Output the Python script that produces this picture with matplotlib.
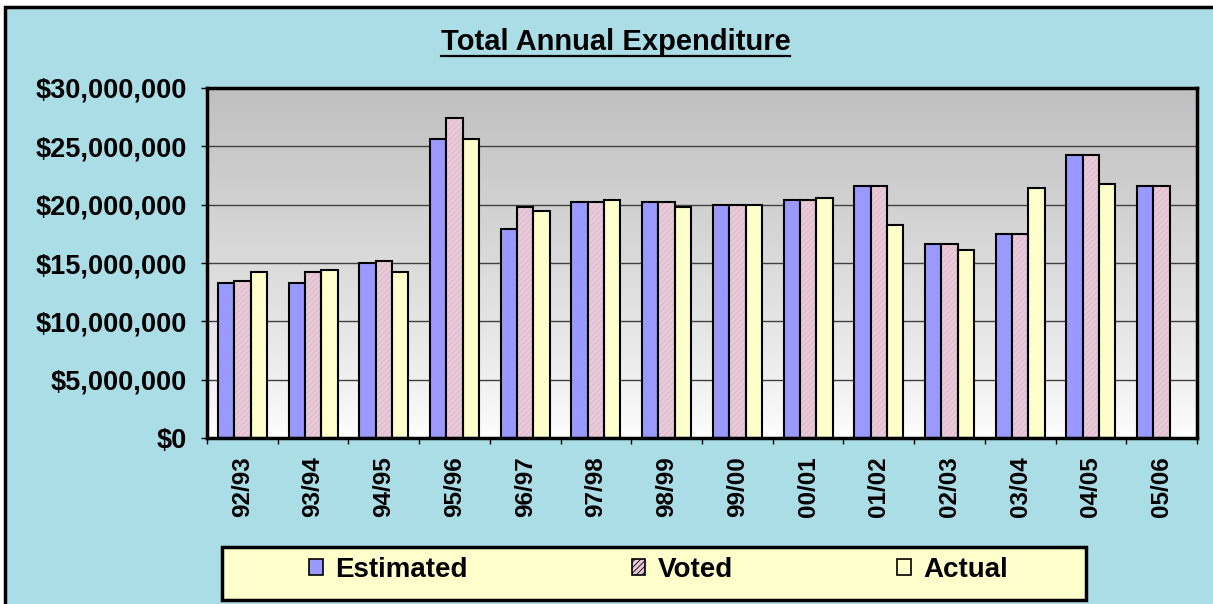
import matplotlib
matplotlib.use('Agg')
import matplotlib.pyplot as plt
import numpy as np
from matplotlib.patches import Rectangle, Patch
from matplotlib.lines import Line2D
from matplotlib.ticker import FuncFormatter

plt.rcParams['font.family'] = ['Liberation Sans', 'DejaVu Sans']
plt.rcParams['font.weight'] = 'bold'
plt.rcParams['hatch.linewidth'] = 0.6

# values in millions of dollars
years = ['92/93', '93/94', '94/95', '95/96', '96/97', '97/98', '98/99',
         '99/00', '00/01', '01/02', '02/03', '03/04', '04/05', '05/06']
estimated = [13.3, 13.3, 15.0, 25.6, 17.9, 20.2, 20.2, 20.0, 20.4, 21.6, 16.6, 17.5, 24.3, 21.6]
voted = [13.5, 14.2, 15.2, 27.4, 19.8, 20.2, 20.2, 20.0, 20.4, 21.6, 16.6, 17.5, 24.3, 21.6]
actual = [14.2, 14.4, 14.2, 25.6, 19.5, 20.4, 19.8, 20.0, 20.6, 18.3, 16.1, 21.4, 21.8, None]

series_names = ['Estimated', 'Voted', 'Actual']
colors = ['#9999ff', '#e8cad9', '#ffffcc']

W, H = 1213, 604
fig = plt.figure(figsize=(W / 100, H / 100), dpi=100, facecolor='white')

# outer chart area with frame
fig.patches.append(Rectangle((5 / W, -0.05), 1.1, (H - 7) / H + 0.05,
                             transform=fig.transFigure, facecolor='#abdde7',
                             edgecolor='black', linewidth=2.5, zorder=-5))

ax = fig.add_axes([207 / W, (H - 438) / H, 990 / W, 350 / H])

# grey-to-white gradient background
grad = np.linspace(0, 1, 256).reshape(-1, 1) ** 0.8
ax.imshow(grad, extent=(0, 1, 0, 1), transform=ax.transAxes, aspect='auto',
          cmap=matplotlib.colors.LinearSegmentedColormap.from_list('g', ['#ffffff', '#c0c0c0']),
          origin='lower', zorder=0)

x = np.arange(len(years))
bw = 0.231
to_dollars = lambda vals: [v * 1e6 for v in vals]

ax.bar(x - bw, to_dollars(estimated), bw, color=colors[0], edgecolor='black', linewidth=1.5, zorder=3)
# voted bars: hatched fill, then black outline on top
ax.bar(x, to_dollars(voted), bw, color=colors[1], edgecolor='#dcb6c9', hatch='//////', linewidth=0, zorder=3)
ax.bar(x, to_dollars(voted), bw, fill=False, edgecolor='black', linewidth=1.5, zorder=4)
ax_x = [i for i, v in enumerate(actual) if v is not None]
ax.bar(np.array(ax_x) + bw, to_dollars([actual[i] for i in ax_x]), bw, color=colors[2],
       edgecolor='black', linewidth=1.5, zorder=3)

ax.set_xlim(-0.5, len(years) - 0.5)
ax.set_ylim(0, 30e6)
ax.set_yticks(np.arange(0, 30e6 + 1, 5e6))
ax.yaxis.set_major_formatter(FuncFormatter(lambda v, p: f'${v:,.0f}'))
ax.yaxis.grid(True, color='#404040', linewidth=1.0, zorder=1)
ax.set_axisbelow(True)

ax.set_xticks(x)
ax.set_xticklabels(years, rotation=90, fontsize=17.5, fontweight='bold')
ax.set_xticks(np.arange(-0.5, len(years)), minor=True)
ax.tick_params(axis='x', which='major', length=0, pad=13)
ax.tick_params(axis='x', which='minor', length=4.5, width=1, direction='out')
ax.tick_params(axis='y', labelsize=19.5, length=4.5, width=1, pad=10)
for lbl in ax.get_yticklabels():
    lbl.set_fontweight('bold')

for sp in ax.spines.values():
    sp.set_linewidth(2.5)
    sp.set_zorder(6)

# title with underline
title = fig.text(615.5 / W, (H - 50) / H, 'Total Annual Expenditure', ha='center',
                 va='baseline', fontsize=21, fontweight='bold')
fig.canvas.draw()
bb = title.get_window_extent(fig.canvas.get_renderer())
fig.add_artist(Line2D([bb.x0 / W, bb.x1 / W], [(H - 56) / H, (H - 56) / H],
                      transform=fig.transFigure, color='black', linewidth=1.6))

# legend box
fig.patches.append(Rectangle((222 / W, (H - 600) / H), 864 / W, 53 / H,
                             transform=fig.transFigure, facecolor='#ffffcc',
                             edgecolor='black', linewidth=2.5, zorder=1))
handles = [Patch(facecolor=colors[0], edgecolor='black', linewidth=1.2),
           Patch(facecolor=colors[1], edgecolor='black', linewidth=1.2, hatch='//////'),
           Patch(facecolor=colors[2], edgecolor='black', linewidth=1.2)]
leg = fig.legend(handles, series_names, loc='center', bbox_to_anchor=(658.5 / W, (H - 570) / H),
                 ncol=3, frameon=False, handlelength=0.5, handleheight=0.5,
                 handletextpad=0.45, columnspacing=5.9,
                 prop={'weight': 'bold', 'size': 20})

fig.savefig('out.png', dpi=100, facecolor='white')
